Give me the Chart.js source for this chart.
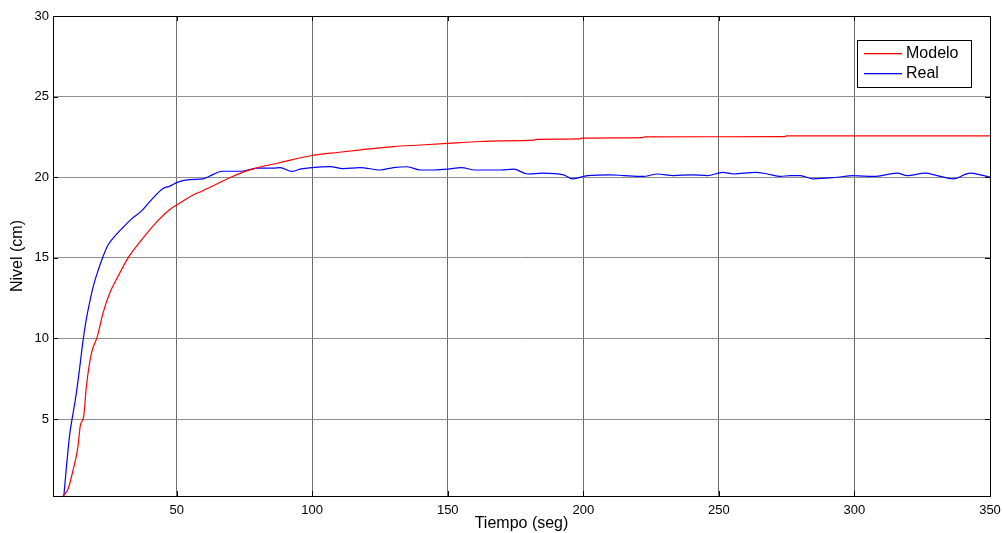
<!DOCTYPE html>
<html>
<head>
<meta charset="utf-8">
<script src="https://cdn.jsdelivr.net/npm/chart.js@4.4.1/dist/chart.umd.min.js"></script>
<style>
  html, body { margin: 0; padding: 0; background: #fff; }
  #wrap { width: 1003px; height: 533px; }
</style>
</head>
<body>
<div id="wrap"><canvas id="nivel"></canvas></div>
<script>
// Respuesta del modelo vs. nivel medido en el tanque
const modeloT = [8.1, 10, 11.8, 13.6, 14.5, 15.7, 16.7, 18.6, 20.7, 22.9, 25.3, 28.4, 32.1, 37, 42.5, 47.5, 51.2, 56.1, 59.5,
  65, 70, 75, 80, 88, 100, 110, 118, 130, 140, 150, 160, 169, 182, 182.5, 198.8, 199.3, 222, 222.5, 274.4, 274.9, 350]
const modeloNivel = [0.23, 0.68, 1.83, 3.28, 4.63, 5.15, 7.0, 9.1, 10.1, 11.6, 12.8, 13.86, 15.0, 16.1, 17.2, 18.0, 18.4, 18.9, 19.15,
  19.6, 20.0, 20.35, 20.6, 20.9, 21.35, 21.55, 21.7, 21.9, 22.0, 22.1, 22.2, 22.26, 22.3, 22.35, 22.38, 22.42, 22.46, 22.5, 22.52, 22.56, 22.56]

const realT = [8.4, 9.35, 10.6, 11.8, 13, 14.3, 15.5, 16.7, 18, 19.2, 21, 22.9, 24.7, 27.2, 30.3, 33.3, 37, 40.7, 45, 47.5, 50.5, 54.8,
  59.8, 63.5, 66.8, 73.4, 79.7, 85.6, 88.2, 92.5, 95.5, 99.9, 106.6, 111.4, 117.7, 125, 130, 135, 140, 145, 150, 155, 160, 165,
  169.5, 174.3, 179.5, 185, 192.7, 196, 201.6, 210, 215, 222, 227.4, 233.3, 240, 245.8, 251.4, 255.4, 263.5, 268, 272.7, 276.4,
  280, 284.8, 293.7, 299.6, 307, 315.8, 319.5, 326.1, 330.5, 336.4, 342.7, 346.4, 350]
const realNivel = [0.23, 2.03, 4.1, 5.35, 6.6, 8.26, 9.9, 11.2, 12.3, 13.2, 14.2, 15.1, 15.8, 16.35, 16.9, 17.4, 17.9, 18.6, 19.3, 19.45, 19.7, 19.85,
  19.9, 20.18, 20.37, 20.37, 20.56, 20.56, 20.6, 20.36, 20.5, 20.6, 20.66, 20.54, 20.6, 20.45, 20.6, 20.65, 20.45, 20.45, 20.5, 20.6, 20.45, 20.45,
  20.45, 20.5, 20.2, 20.25, 20.15, 19.9, 20.1, 20.15, 20.1, 20.05, 20.2, 20.1, 20.15, 20.1, 20.3, 20.2, 20.3, 20.2, 20.05, 20.1,
  20.1, 19.9, 20.0, 20.1, 20.05, 20.25, 20.1, 20.25, 20.1, 19.9, 20.25, 20.15, 20.0]

const xTicks = [50, 100, 150, 200, 250, 300, 350]
const yTicks = [5, 10, 15, 20, 25, 30]

const FONT = "'Liberation Sans', Arial, sans-serif"
const ROJO = "#ff0000"
const AZUL = "#0000ff"

const toPoints = (xs, ys) => xs.map((x, i) => ({ x, y: ys[i] }))

// caja del eje con marcas hacia adentro (estilo MATLAB)
const axisBox = {
  id: "axisBox",
  afterDatasetsDraw(chart) {
    const { ctx, chartArea: a, scales } = chart
    ctx.save()
    ctx.strokeStyle = "#000"
    ctx.lineWidth = 1
    ctx.beginPath()
    xTicks.forEach((v) => {
      const px = Math.round(scales.x.getPixelForValue(v)) + 0.5
      ctx.moveTo(px, a.bottom); ctx.lineTo(px, a.bottom - 5)
      ctx.moveTo(px, a.top); ctx.lineTo(px, a.top + 5)
    })
    yTicks.forEach((v) => {
      const py = Math.round(scales.y.getPixelForValue(v)) + 0.5
      ctx.moveTo(a.left, py); ctx.lineTo(a.left + 5, py)
      ctx.moveTo(a.right, py); ctx.lineTo(a.right - 5, py)
    })
    ctx.stroke()
    ctx.strokeRect(Math.round(a.left) + 0.5, Math.round(a.top) + 0.5,
      Math.round(a.right - a.left), Math.round(a.bottom - a.top))
    ctx.restore()
  }
}

// leyenda con recuadro dentro del área de trazado
const boxLegend = {
  id: "boxLegend",
  afterDraw(chart) {
    const { ctx } = chart
    const x = 857, y = 40, w = 114, h = 47
    const colores = [ROJO, AZUL]
    ctx.save()
    ctx.fillStyle = "#fff"
    ctx.fillRect(x, y, w, h)
    ctx.lineWidth = 1
    ctx.strokeStyle = "#000"
    ctx.strokeRect(x + 0.5, y + 0.5, w, h)
    ctx.font = `16px ${FONT}`
    ctx.textBaseline = "middle"
    chart.data.datasets.forEach((ds, i) => {
      const ly = y + 13 + i * 20
      ctx.fillStyle = colores[i]
      ctx.fillRect(x + 7, ly, 38, 1.3)
      ctx.fillStyle = "#000"
      ctx.fillText(ds.label, x + 49, ly + 1)
    })
    ctx.restore()
  }
}

new Chart(document.getElementById("nivel"), {
  type: "line",
  data: {
    datasets: [
      {
        label: "Modelo",
        data: toPoints(modeloT, modeloNivel),
        borderColor: ROJO,
        borderWidth: 1.2,
        pointRadius: 0,
        cubicInterpolationMode: "monotone"
      },
      {
        label: "Real",
        data: toPoints(realT, realNivel),
        borderColor: AZUL,
        borderWidth: 1.2,
        pointRadius: 0,
        cubicInterpolationMode: "monotone"
      }
    ]
  },
  options: {
    responsive: true,
    maintainAspectRatio: false,
    animation: false,
    layout: { padding: { top: 16, right: 13, left: 0, bottom: 0 } },
    plugins: {
      legend: { display: false },
      tooltip: { enabled: false }
    },
    scales: {
      x: {
        type: "linear",
        min: 4.4,
        max: 350,
        afterBuildTicks: (s) => { s.ticks = xTicks.map((v) => ({ value: v })) },
        afterFit: (s) => { s.height = 37; s.paddingLeft = 0; s.paddingRight = 0 },
        grid: { color: "#6b6b6b", lineWidth: 1, drawTicks: false },
        border: { display: false },
        ticks: { color: "#000", padding: 7, maxRotation: 0, font: { family: FONT, size: 13 } },
        title: {
          display: true,
          text: "Tiempo (seg)",
          color: "#000",
          padding: { top: 0, bottom: 0 },
          font: { family: FONT, size: 16 }
        }
      },
      y: {
        min: 0.23,
        max: 30,
        afterBuildTicks: (s) => { s.ticks = yTicks.map((v) => ({ value: v })) },
        afterFit: (s) => { s.width = 53; s.paddingTop = 0; s.paddingBottom = 0 },
        grid: { color: "#8f8f8f", lineWidth: 1, drawTicks: false },
        border: { display: false },
        ticks: { color: "#000", padding: 4, font: { family: FONT, size: 13 } },
        title: {
          display: true,
          text: "Nivel (cm)",
          color: "#000",
          padding: { top: 8, bottom: 0 },
          font: { family: FONT, size: 16 }
        }
      }
    }
  },
  plugins: [axisBox, boxLegend]
})
</script>
</body>
</html>
